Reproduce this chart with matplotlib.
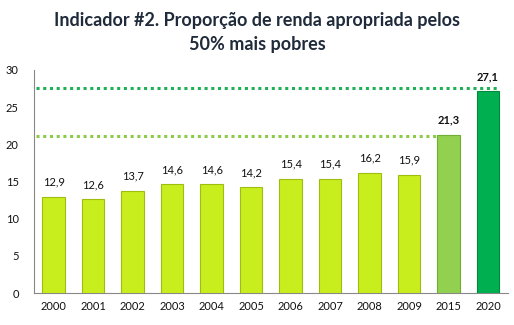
import matplotlib
matplotlib.use("Agg")
import matplotlib.pyplot as plt
import numpy as np

years = ["2000", "2001", "2002", "2003", "2004", "2005", "2006", "2007", "2008", "2009", "2015", "2020"]
values = [12.9, 12.6, 13.7, 14.6, 14.6, 14.2, 15.4, 15.4, 16.2, 15.9, 21.3, 27.1]
labels = ["12,9", "12,6", "13,7", "14,6", "14,6", "14,2", "15,4", "15,4", "16,2", "15,9", "21,3", "27,1"]
colors = ["#C8EE1E"] * 10 + ["#92D050", "#00B050"]
edges = ["#9DBE10"] * 10 + ["#6FAE30", "#008A3E"]
bold = [False] * 10 + [True, True]

plt.rcParams['font.family'] = ['Lato', 'DejaVu Sans']

fig = plt.figure(figsize=(5.14, 3.25), dpi=100)
ax = fig.add_axes([0.066, 0.098, 0.922, 0.687])

x = np.arange(len(years))
ax.bar(x, values, width=0.57, color=colors, edgecolor=edges, linewidth=0.8, zorder=3)

# dotted target lines
ax.hlines(values[-1] + 0.4, -0.45, x[-1] + 0.28, colors="#1FAF55", linestyles=(0, (1, 1.2)), linewidth=2.2, zorder=2)
ax.hlines(values[-2] - 0.2, -0.45, x[-2] + 0.28, colors="#8CCB4A", linestyles=(0, (1, 1.2)), linewidth=2.2, zorder=2)

for xi, v, lab, b in zip(x, values, labels, bold):
    ax.text(xi, v + 1.25, lab, ha="center", va="bottom", fontsize=8,
            fontweight="bold" if b else "normal", color="#111111")

ax.set_xlim(-0.5, len(years) - 0.5)
ax.set_ylim(0, 30)
ax.set_yticks([0, 5, 10, 15, 20, 25, 30])
ax.set_xticks(x)
ax.set_xticklabels(years)
ax.tick_params(axis="both", length=0, labelsize=8, colors="#111111")
ax.tick_params(axis="y", pad=11)
ax.tick_params(axis="x", pad=6)
for s in ["top", "right"]:
    ax.spines[s].set_visible(False)
for s in ["left", "bottom"]:
    ax.spines[s].set_color("#888888")
    ax.spines[s].set_linewidth(0.8)

fig.text(0.5, 0.90, "Indicador #2. Proporção de renda apropriada pelos\n50% mais pobres",
         ha="center", va="center", fontsize=13, fontweight="bold", color="#1F2A3A",
         linespacing=1.55)

fig.savefig("out.png", dpi=100)
